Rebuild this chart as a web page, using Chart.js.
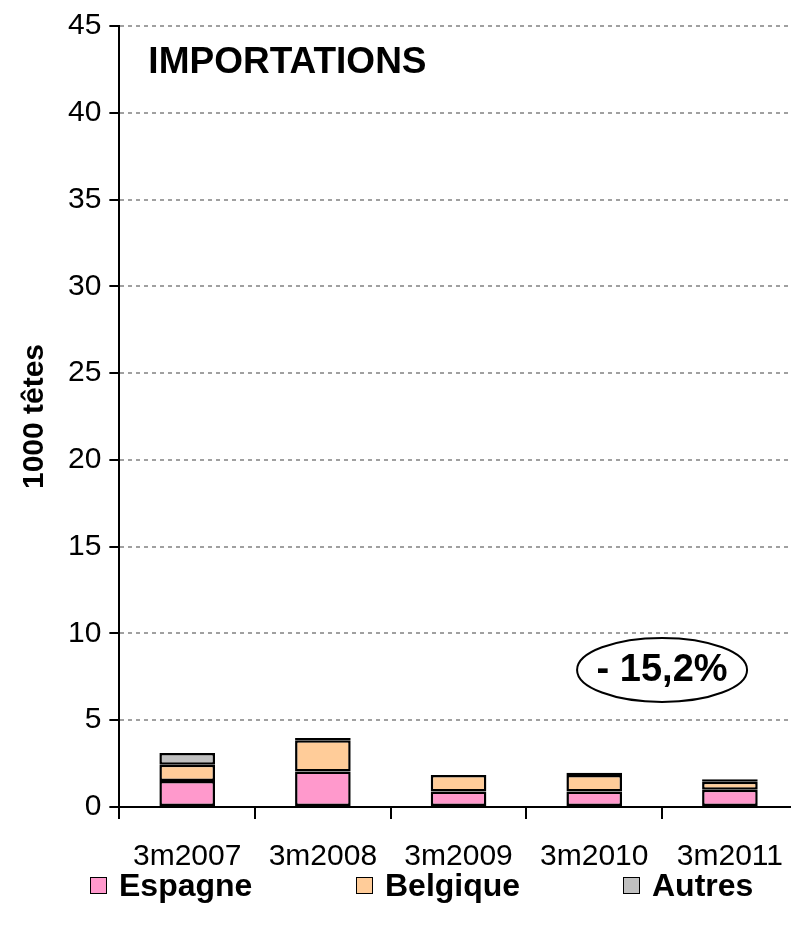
<!DOCTYPE html>
<html lang="fr">
<head>
<meta charset="UTF-8">
<title>Importations</title>
<script src="https://cdn.jsdelivr.net/npm/chart.js"></script>
<style>
  html, body { margin: 0; padding: 0; background: #fff; }
  #wrap { width: 791px; height: 932px; position: relative; overflow: hidden; }
  #canvasBox { position: absolute; left: 0; top: 0; width: 803px; height: 898px; }
  #legend { position: absolute; left: 0; top: 866px; width: 791px; height: 40px;
            font-family: 'Liberation Sans', Arial, sans-serif; font-weight: bold; font-size: 32px; color: #000; }
  .item { position: absolute; top: 0; display: flex; align-items: center; height: 38px; }
  .box { width: 15px; height: 15px; border: 1.5px solid #000; margin-right: 12px; }
</style>
</head>
<body>
<div id="wrap">
  <div id="canvasBox"><canvas id="chart"></canvas></div>
  <div id="legend"></div>
</div>
<script>
// données (1000 têtes)
const categories = ['3m2007', '3m2008', '3m2009', '3m2010', '3m2011'];
const espagne  = [1.5, 2.05, 0.9, 0.9, 1.0];
const belgique = [0.93, 1.8, 0.95, 0.95, 0.45];
const autres   = [0.68, 0.12, 0.0, 0.13, 0.15];
const yTicks = [0, 5, 10, 15, 20, 25, 30, 35, 40, 45];
const titleText = 'IMPORTATIONS';
const badgeText = '- 15,2%';

const FONT = "'Liberation Sans', Arial, sans-serif";

// titre + bulle dans la zone du graphe
const overlay = {
  id: 'overlay',
  afterDraw(chart) {
    const c = chart.ctx, x = chart.scales.x, y = chart.scales.y;
    c.save();
    c.fillStyle = '#000';
    c.font = 'bold 37px ' + FONT;
    c.textBaseline = 'middle';
    c.fillText(titleText, chart.chartArea.left + 29, y.getPixelForValue(42.9));
    // ellipse
    const cx = (x.getPixelForValue(3) + x.getPixelForValue(4)) / 2;
    const cy = y.getPixelForValue(7.9);
    c.beginPath();
    c.ellipse(cx, cy, 85, 32, 0, 0, Math.PI * 2);
    c.lineWidth = 2;
    c.strokeStyle = '#000';
    c.stroke();
    c.font = 'bold 38px ' + FONT;
    c.textAlign = 'center';
    c.fillText(badgeText, cx, cy + 1);
    c.restore();
  }
};

const barStyle = { borderColor: '#000', borderWidth: 2.5, borderSkipped: false, inflateAmount: 0 };

const chart = new Chart(document.getElementById('chart'), {
  type: 'bar',
  data: {
    labels: categories,
    datasets: [
      { label: 'Espagne', data: espagne, backgroundColor: '#FF99CC', ...barStyle },
      { label: 'Belgique', data: belgique, backgroundColor: '#FFCC99', ...barStyle },
      { label: 'Autres', data: autres, backgroundColor: '#C0C0C0', ...barStyle }
    ]
  },
  options: {
    responsive: true,
    maintainAspectRatio: false,
    animation: false,
    layout: { padding: { top: 4, right: 0, left: 17, bottom: 3 } },
    datasets: { bar: { categoryPercentage: 1, barPercentage: 0.41 } },
    plugins: {
      legend: { display: false },
      tooltip: { enabled: false }
    },
    scales: {
      x: {
        stacked: true,
        grid: { offset: true, drawOnChartArea: false, drawTicks: true, tickLength: 12, color: '#000', lineWidth: 2 },
        border: { color: '#000', width: 2 },
        ticks: { color: '#000', font: { family: FONT, size: 30 }, padding: 20, maxRotation: 0 }
      },
      y: {
        stacked: true,
        min: 0, max: 45,
        afterBuildTicks(axis) { axis.ticks = yTicks.map(v => ({ value: v })); },
        grid: { color: '#a0a0a0', lineWidth: 2, tickLength: 10, tickColor: '#000', tickBorderDash: [], tickWidth: 2 },
        border: { color: '#000', width: 2, dash: [4, 4] },
        ticks: { color: '#000', font: { family: FONT, size: 30 }, padding: 8 },
        title: { display: true, text: '1000 têtes', color: '#000', font: { family: FONT, size: 30, weight: 'bold' }, padding: { top: 0, bottom: 7 } }
      }
    }
  },
  plugins: [overlay]
});

// légende HTML sous le graphe
const legendX = [90, 356, 623];
const legendEl = document.getElementById('legend');
chart.data.datasets.forEach((ds, i) => {
  const item = document.createElement('div');
  item.className = 'item';
  item.style.left = legendX[i] + 'px';
  const box = document.createElement('span');
  box.className = 'box';
  box.style.background = ds.backgroundColor;
  const txt = document.createElement('span');
  txt.textContent = ds.label;
  item.appendChild(box);
  item.appendChild(txt);
  legendEl.appendChild(item);
});
</script>
</body>
</html>
